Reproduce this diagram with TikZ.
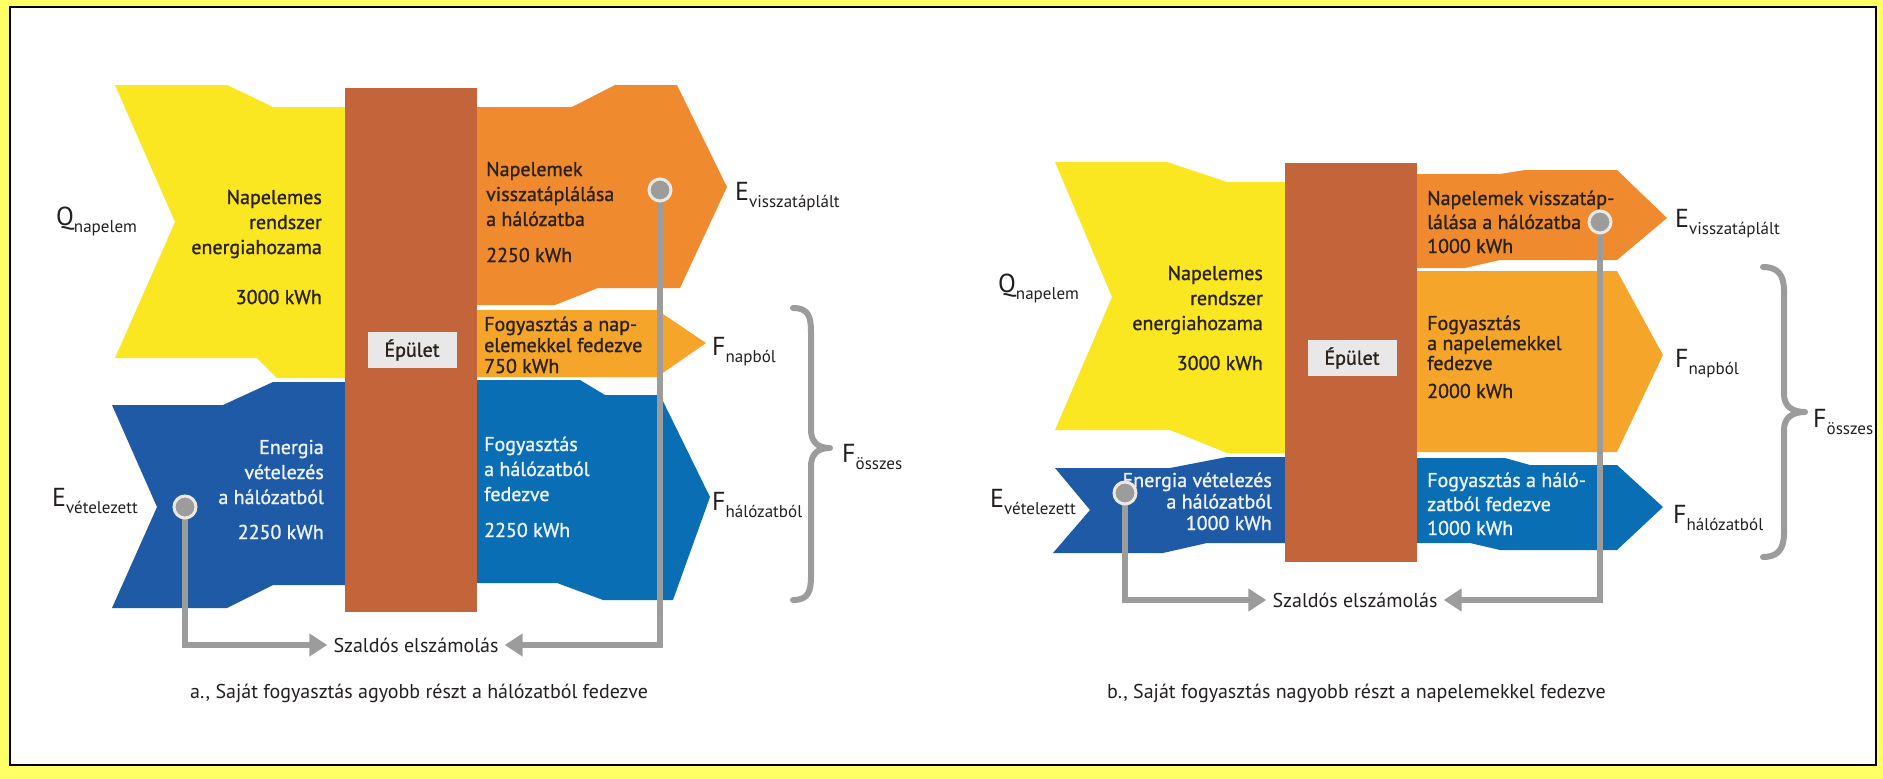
\documentclass[tikz,border=0pt]{standalone}
\usepackage{fontspec}
\setmainfont{PT Sans}
\newfontfamily\bandfont[FakeBold=1.2]{PT Sans}
\usetikzlibrary{arrows.meta}

\definecolor{frameyel}{HTML}{FFFF66}
\definecolor{cyel}{HTML}{FBE622}
\definecolor{corange}{HTML}{EF8A2E}
\definecolor{clight}{HTML}{F5A52A}
\definecolor{cblueL}{HTML}{1F5AA6}
\definecolor{cblueR}{HTML}{0A6EB4}
\definecolor{cbld}{HTML}{C4643A}
\definecolor{cgray}{HTML}{9C9C9C}
\definecolor{cbox}{HTML}{E8E8E8}
\definecolor{cring}{HTML}{EDE8E0}
\definecolor{tdark}{HTML}{2A2218}
\definecolor{twhite}{HTML}{EEF3FA}
\definecolor{tlabel}{HTML}{231F20}

\newcommand\fsz[2]{\fontsize{#1}{#2}\selectfont}
% symbol with a lowered subscript word
\newcommand\symlbl[2]{{\fsz{26}{26}#1}\raisebox{-7pt}{\fsz{17}{17}#2}}

\begin{document}
\begin{tikzpicture}[x=1pt,y=-1pt,
  dk/.style={font=\bandfont\fsz{20}{25}, text=tdark, inner sep=0pt},
  wt/.style={font=\bandfont\fsz{20}{25}, text=twhite, inner sep=0pt},
  lab/.style={text=tlabel, inner sep=0pt},
  bldlabel/.style={fill=cbox, minimum width=89pt, minimum height=36pt, inner sep=0pt,
    font=\bandfont\fsz{20}{25}, text=tdark},
  dot/.style={circle, minimum size=22pt, inner sep=0pt, fill=cgray, draw=cring, line width=3pt},
  szal/.style={font=\fsz{20}{25}, text=tlabel, inner xsep=6pt, inner ysep=0pt},
  conn/.style={draw=cgray, line width=6pt, line join=miter,
    -{Triangle[length=18pt,width=22pt]}},
  brace/.style={draw=cgray, line width=6pt, line cap=round, line join=round},
  captext/.style={font=\fsz{20}{25}, text=tlabel, inner sep=0pt}]

\useasboundingbox (0,0) rectangle (1883,779);
\fill[white] (0,0) rectangle (1883,779);

% ---------------- a. ----------------
% incoming bands
\fill[cyel] (115,85) -- (227,85) -- (273,107) -- (350,107) -- (350,378) -- (277,378)
  -- (257,358) -- (115,358) -- (175,222) -- cycle;
\fill[cblueL] (112,405) -- (223,405) -- (273,382) -- (350,382) -- (350,585) -- (273,585)
  -- (227,608) -- (112,608) -- (157,507) -- cycle;
% outgoing bands
\fill[corange] (470,107) -- (572,107) -- (615,85) -- (677,85) -- (727,187) -- (680,288)
  -- (598,288) -- (555,305) -- (470,305) -- cycle;
\fill[clight] (470,310) -- (657,310) -- (706,343) -- (657,377) -- (470,377) -- cycle;
\fill[cblueR] (470,380) -- (580,380) -- (605,395) -- (660,395) -- (710,497) -- (673,600)
  -- (603,600) -- (557,583) -- (470,583) -- cycle;
% building
\fill[cbld] (345,88) rectangle (477,612);
\node[bldlabel] (epa) at (412,350) {Épület};

% band texts (anchored at the baseline of their last line)
\node[dk, align=right, anchor=base east] (ya) at (322,304)
  {Napelemes\\rendszer\\energiahozama\\[25pt]3000 kWh};
\node[dk, align=left, anchor=base west] (oa) at (486,262)
  {Napelemek\\visszatáplálása\\a hálózatba\\[11pt]2250 kWh};
\node[dk, font=\bandfont\fsz{20}{21}, align=left, anchor=base west] (la) at (484,373)
  {Fogyasztás a nap-\\elemekkel fedezve\\750 kWh};
\node[wt, align=right, anchor=base east] (bla) at (324,539)
  {Energia\\vételezés\\a hálózatból\\[10pt]2250 kWh};
\node[wt, align=left, anchor=base west] (bra) at (484,537)
  {Fogyasztás\\a hálózatból\\fedezve\\[11pt]2250 kWh};

% symbols
\node[lab, anchor=base west] (qa) at (56,225) {\symlbl{Q}{napelem}};
\node[lab, anchor=base west] (eva) at (52,506) {\symlbl{E}{vételezett}};
\node[lab, anchor=base west] (eka) at (735,200) {\symlbl{E}{visszatáplált}};
\node[lab, anchor=base west] (fna) at (712,355) {\symlbl{F}{napból}};
\node[lab, anchor=base west] (fha) at (712,510) {\symlbl{F}{hálózatból}};
\node[lab, anchor=base west] (foa) at (842,462) {\symlbl{F}{összes}};
\draw[brace] (793,308) .. controls (808,308) and (811,316) .. (811,332) -- (811,430)
  .. controls (811,442) and (818,448) .. (830,448)
  .. controls (818,448) and (811,454) .. (811,466) -- (811,576)
  .. controls (811,592) and (808,600) .. (793,600);

% net metering loop
\node[szal] (sa) at (416,645) {Szaldós elszámolás};
\draw[conn] (185,507) |- (sa.west);
\draw[conn] (660,190) |- (sa.east);
\node[dot] (va) at (185,507) {};
\node[dot] (ka) at (660,190) {};

\node[captext, anchor=west] (capa) at (190,693)
  {a., Saját fogyasztás agyobb részt a hálózatból fedezve};

% ---------------- b. ----------------
\fill[cyel] (1055,162) -- (1167,162) -- (1227,182) -- (1290,182) -- (1290,453) -- (1227,453)
  -- (1170,430) -- (1055,430) -- (1112,297) -- cycle;
\fill[cblueL] (1055,468) -- (1170,468) -- (1227,457) -- (1290,457) -- (1290,543) -- (1207,543)
  -- (1163,553) -- (1053,553) -- (1090,510) -- cycle;
\fill[corange] (1410,174) -- (1500,174) -- (1525,170) -- (1617,170) -- (1667,218) -- (1617,260)
  -- (1500,260) -- (1465,268) -- (1410,268) -- cycle;
\fill[clight] (1410,271) -- (1617,271) -- (1663,355) -- (1617,452) -- (1410,452) -- cycle;
\fill[cblueR] (1410,458) -- (1505,458) -- (1530,465) -- (1617,465) -- (1663,507) -- (1617,550)
  -- (1500,550) -- (1470,543) -- (1410,543) -- cycle;
\fill[cbld] (1285,163) rectangle (1417,562);
\node[bldlabel] (epb) at (1352,358) {Épület};

\node[dk, align=right, anchor=base east] (yb) at (1263,370)
  {Napelemes\\rendszer\\energiahozama\\[15pt]3000 kWh};
\node[wt, font=\bandfont\fsz{20}{21.5}, align=right, anchor=base east] (blb) at (1272,530)
  {Energia vételezés\\a hálózatból\\1000 kWh};
\node[dk, font=\bandfont\fsz{20}{24}, align=left, anchor=base west] (ob) at (1427,253)
  {Napelemek visszatáp-\\lálása a hálózatba\\1000 kWh};
\node[dk, font=\bandfont\fsz{20}{20}, align=left, anchor=base west] (lb) at (1427,398)
  {Fogyasztás\\a napelemekkel\\fedezve\\[8pt]2000 kWh};
\node[wt, font=\bandfont\fsz{20}{24}, align=left, anchor=base west] (brb) at (1427,535)
  {Fogyasztás a háló-\\zatból fedezve\\1000 kWh};

\node[lab, anchor=base west] (qb) at (998,292) {\symlbl{Q}{napelem}};
\node[lab, anchor=base west] (evb) at (990,507) {\symlbl{E}{vételezett}};
\node[lab, anchor=base west] (ekb) at (1675,227) {\symlbl{E}{visszatáplált}};
\node[lab, anchor=base west] (fnb) at (1675,367) {\symlbl{F}{napból}};
\node[lab, anchor=base west] (fhb) at (1673,523) {\symlbl{F}{hálózatból}};
\node[lab, anchor=base west] (fob) at (1813,427) {\symlbl{F}{összes}};
\draw[brace] (1763,267) .. controls (1778,267) and (1784,275) .. (1784,291) -- (1784,394)
  .. controls (1784,406) and (1792,412) .. (1805,412)
  .. controls (1792,412) and (1784,418) .. (1784,430) -- (1784,533)
  .. controls (1784,549) and (1778,557) .. (1763,557);

\node[szal] (sb) at (1355,600) {Szaldós elszámolás};
\draw[conn] (1125,493) |- (sb.west);
\draw[conn] (1600,222) |- (sb.east);
\node[dot] (vb) at (1125,493) {};
\node[dot] (kb) at (1600,222) {};

\node[captext, anchor=west] (capb) at (1107,693)
  {b., Saját fogyasztás nagyobb részt a napelemekkel fedezve};

% ---------------- frame ----------------
\fill[frameyel, even odd rule] (0,0) rectangle (1883,779) (10,7) rectangle (1876,765);
\draw[black, line width=2.5pt] (10,7) rectangle (1876,765);
\end{tikzpicture}
\end{document}
